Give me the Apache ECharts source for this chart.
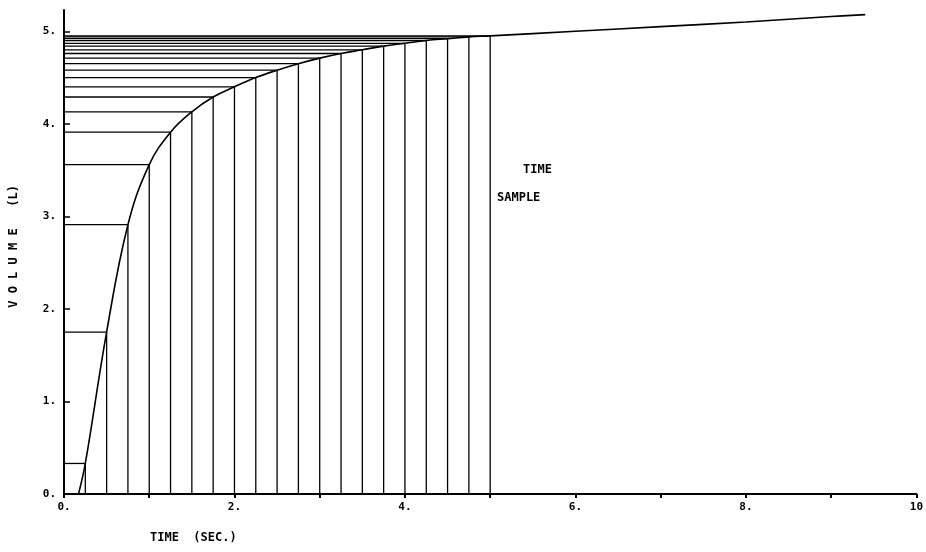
<!DOCTYPE html>
<html>
<head>
<meta charset="utf-8">
<script src="https://cdn.jsdelivr.net/npm/echarts@6/dist/echarts.min.js"></script>
<style>html,body{margin:0;padding:0;background:#fff}#chart{width:926px;height:552px}</style>
</head>
<body>
<div id="chart"></div>
<script>
// sample times (s) and measured volume (L) at each sample
var sampleTimes = [0.25, 0.5, 0.75, 1.0, 1.25, 1.5, 1.75, 2.0, 2.25, 2.5, 2.75, 3.0, 3.25, 3.5, 3.75, 4.0, 4.25, 4.5, 4.75, 5.0];
var sampleVolumes = [0.33, 1.75, 2.91, 3.56, 3.91, 4.13, 4.29, 4.40, 4.50, 4.58, 4.65, 4.71, 4.76, 4.80, 4.84, 4.87, 4.90, 4.92, 4.94, 4.95];
// volume curve beyond the samples
var tailTimes = [6.0, 7.0, 8.0, 9.0, 9.4];
var tailVolumes = [5.0, 5.05, 5.1, 5.16, 5.18];
var curveStart = [0.17, 0];

var curve = [curveStart];
sampleTimes.forEach(function (t, i) { curve.push([t, sampleVolumes[i]]); });
tailTimes.forEach(function (t, i) { curve.push([t, tailVolumes[i]]); });
var samples = sampleTimes.map(function (t, i) { return [t, sampleVolumes[i]]; });

var font = '"DejaVu Sans Mono", monospace';
var chart = echarts.init(document.getElementById('chart'));
var option = {
    backgroundColor: '#fff',
    animation: false,
    grid: { left: 64, right: 4, top: 10, bottom: 58 },
    xAxis: {
        type: 'value', min: 0, max: 10, interval: 1,
        axisLine: { lineStyle: { color: '#000', width: 2 } },
        axisTick: { inside: false, length: 4, lineStyle: { color: '#000', width: 2 } },
        axisLabel: { color: '#000', fontFamily: font, fontSize: 11, fontWeight: 'bold',
            formatter: function (v) { return v % 2 ? '' : (v === 10 ? '10' : v + '.'); } },
        splitLine: { show: false }
    },
    yAxis: {
        type: 'value', min: 0, max: 5.23, interval: 1,
        axisLine: { show: true, lineStyle: { color: '#000', width: 2 } },
        axisTick: { show: true, inside: true, length: 6, lineStyle: { color: '#000', width: 1.5 } },
        axisLabel: { color: '#000', fontFamily: font, fontSize: 11, fontWeight: 'bold',
            showMaxLabel: false, formatter: function (v) { return v + '.'; } },
        splitLine: { show: false }
    },
    graphic: [
        { type: 'text', left: 8, top: 185, rotation: Math.PI / 2,
          style: { text: 'V O L U M E   (L)', font: 'bold 12px ' + font, fill: '#000' } },
        { type: 'text', left: 150, top: 532, style: { text: 'TIME  (SEC.)', font: 'bold 12px ' + font, fill: '#000' } },
        { type: 'text', left: 523, top: 164, style: { text: 'TIME', font: 'bold 12px ' + font, fill: '#000' } },
        { type: 'text', left: 497, top: 192, style: { text: 'SAMPLE', font: 'bold 12px ' + font, fill: '#000' } }
    ],
    series: [
        {
            type: 'custom',
            data: samples,
            renderItem: function (params, api) {
                var p = api.coord([api.value(0), api.value(1)]);
                var o = api.coord([0, 0]);
                var st = { stroke: '#000', lineWidth: 1.3 };
                return { type: 'group', children: [
                    { type: 'line', shape: { x1: p[0], y1: o[1], x2: p[0], y2: p[1] }, style: st },
                    { type: 'line', shape: { x1: o[0], y1: p[1], x2: p[0], y2: p[1] }, style: st }
                ] };
            }
        },
        {
            type: 'line', data: curve, smooth: 0.4, showSymbol: false,
            lineStyle: { color: '#000', width: 1.6 }
        }
    ]
};
chart.setOption(option);
</script>
</body>
</html>
